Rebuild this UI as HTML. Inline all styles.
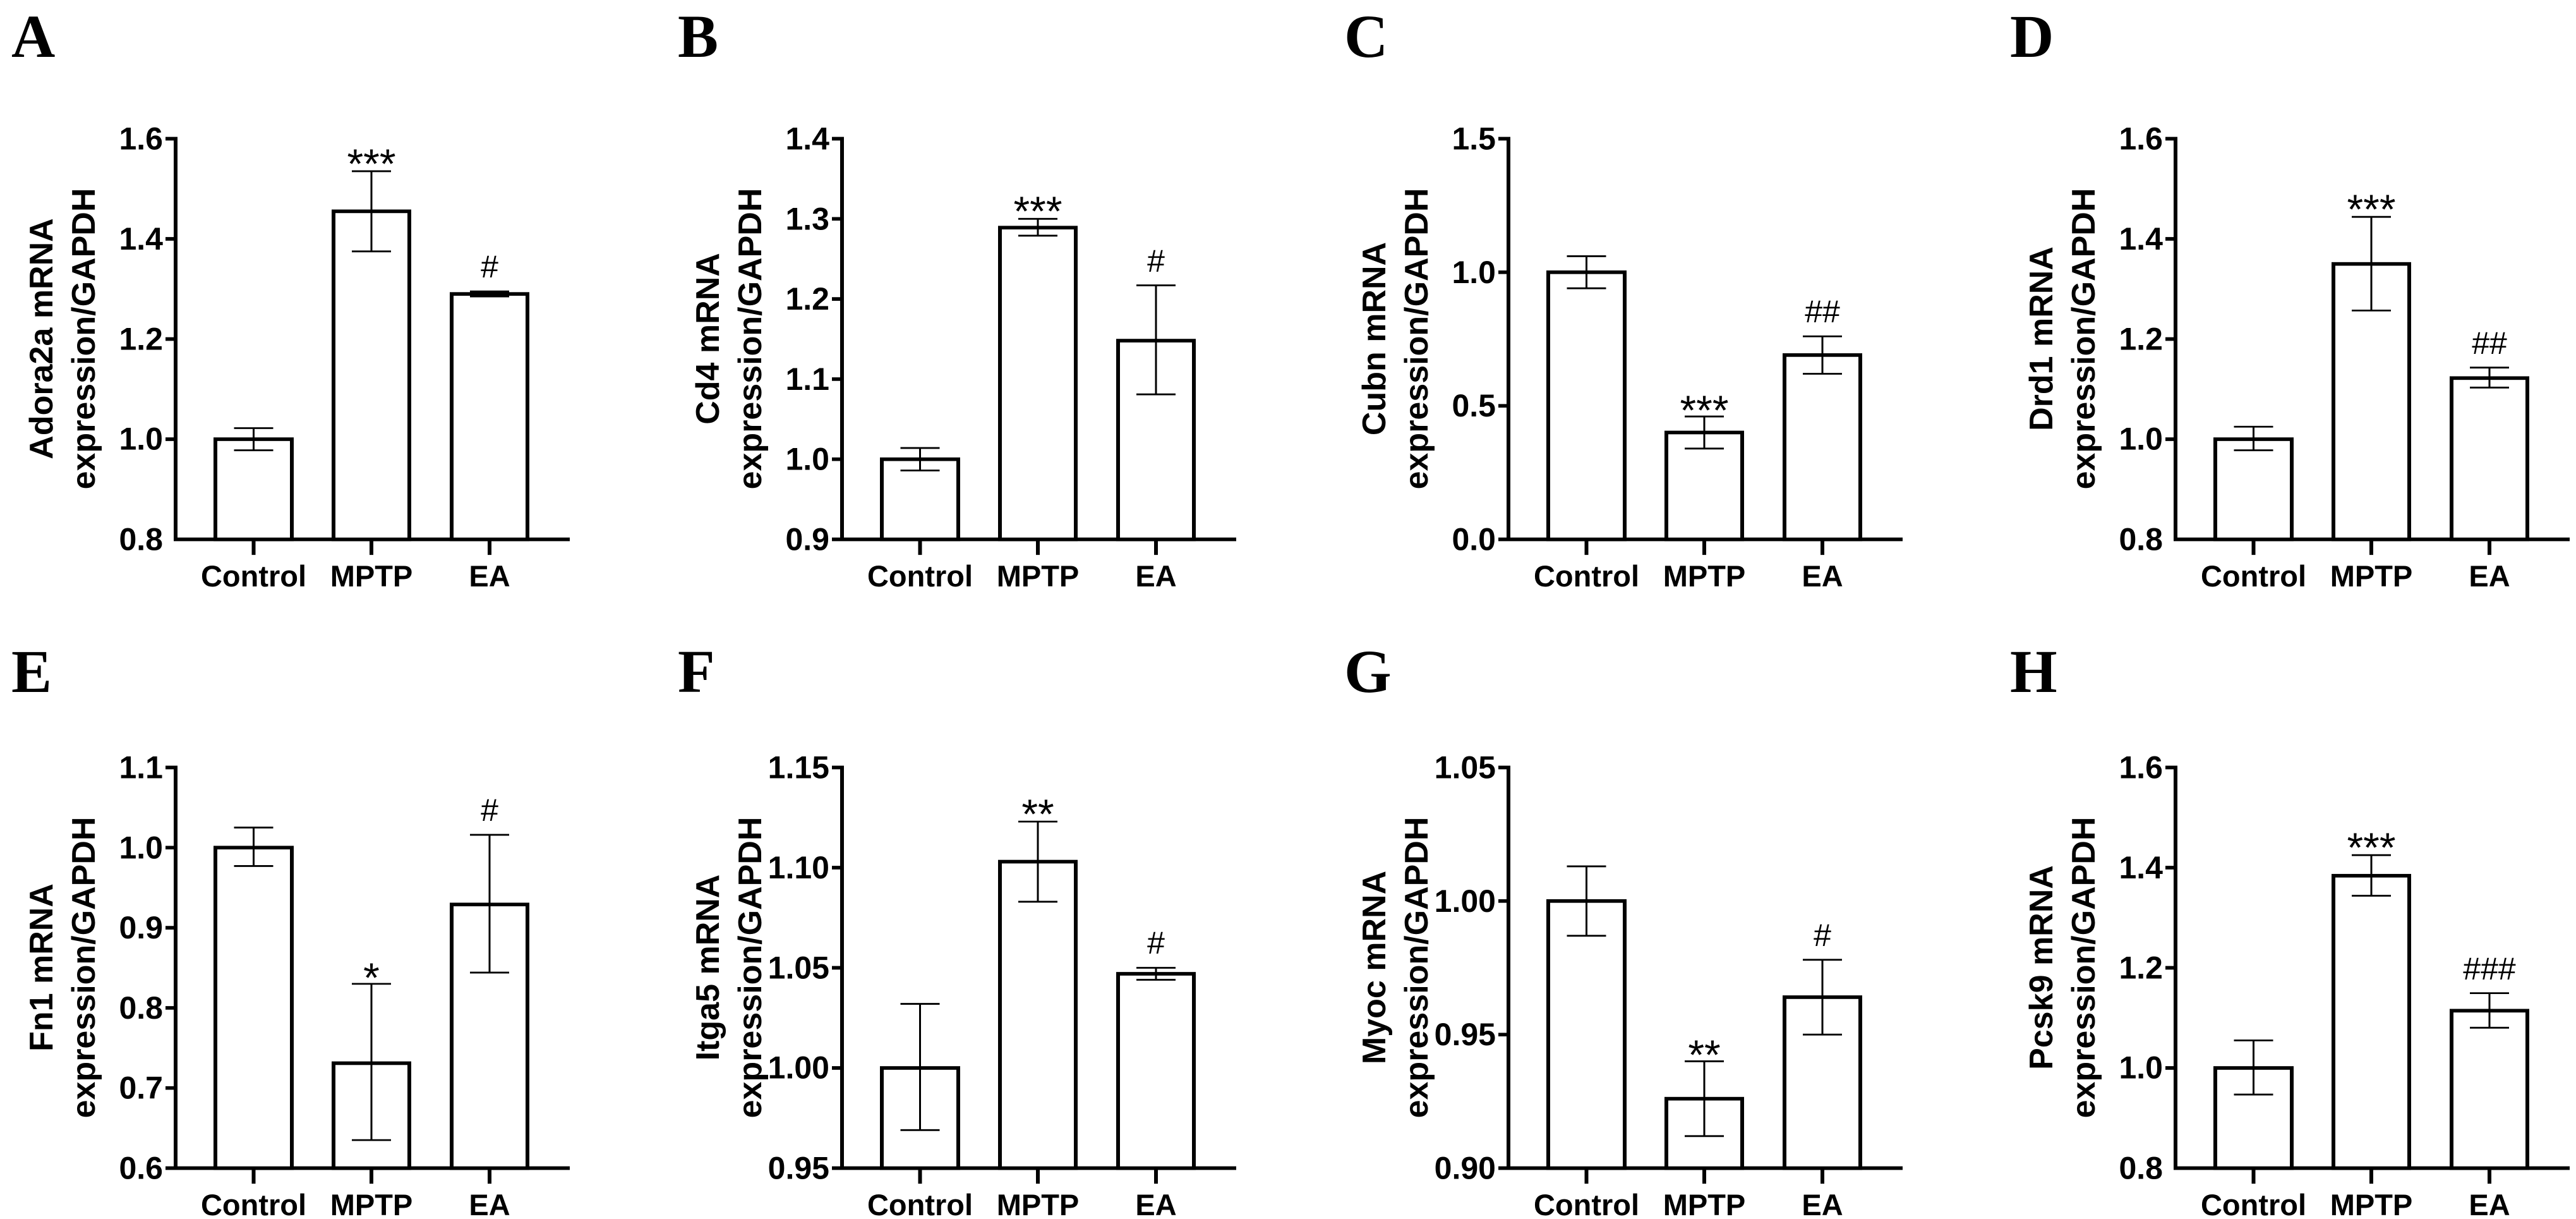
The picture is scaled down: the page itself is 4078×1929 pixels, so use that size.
<!DOCTYPE html>
<html><head><meta charset="utf-8"><style>
html,body{margin:0;padding:0;background:#fff;}
svg{display:block;}
.t{font-family:"Liberation Sans",Arial,sans-serif;font-weight:bold;font-size:50px;fill:#000;}
.c{font-family:"Liberation Sans",Arial,sans-serif;font-weight:bold;font-size:47px;fill:#000;text-anchor:middle;}
.y{font-family:"Liberation Sans",Arial,sans-serif;font-weight:bold;font-size:52px;fill:#000;text-anchor:middle;}
.s{font-family:"Liberation Sans",Arial,sans-serif;font-size:66px;fill:#000;text-anchor:middle;}
.h{font-family:"Liberation Sans",Arial,sans-serif;font-size:50px;fill:#000;text-anchor:middle;}
.L{font-family:"Liberation Serif","Times New Roman",serif;font-weight:bold;font-size:96px;fill:#000;}
.ax{fill:none;stroke:#000;stroke-width:6;}
.b{fill:#fff;stroke:#000;stroke-width:6;}
.e{fill:none;stroke:#000;stroke-width:3;}
</style></head><body>
<svg width="4078" height="1929" viewBox="0 0 4078 1929" xmlns="http://www.w3.org/2000/svg">
<rect width="4078" height="1929" fill="#fff"/>
<text class="L" x="18" y="90">A</text>
<text class="L" x="1073" y="90">B</text>
<text class="L" x="2128" y="90">C</text>
<text class="L" x="3182" y="90">D</text>
<text class="L" x="18" y="1095">E</text>
<text class="L" x="1073" y="1095">F</text>
<text class="L" x="2128" y="1095">G</text>
<text class="L" x="3182" y="1095">H</text>

<!-- A -->
<g transform="translate(0,0)">
<g transform="translate(0,219.5) scale(1,0.9463) translate(0,-232)">
<path class="ax" d="M278,229V902H902M262,232H278M262,399.5H278M262,567H278M262,734.5H278M401.5,902V928M588,902V928M775,902V928"/>
<rect class="b" x="341" y="734.5" width="121" height="167.5"/>
<rect class="b" x="528" y="353.4" width="120" height="548.6"/>
<rect class="b" x="715" y="491.6" width="120" height="410.4"/>
<path class="e" d="M401.5,716V753M370.5,716H432.5M370.5,753H432.5M588,286.4V420.4M557,286.4H619M557,420.4H619M775,487.4V495.8M744,487.4H806M744,495.8H806"/>
</g>
<text class="t" text-anchor="end" x="258" y="236.5">1.6</text><text class="t" text-anchor="end" x="258" y="395">1.4</text><text class="t" text-anchor="end" x="258" y="553.5">1.2</text><text class="t" text-anchor="end" x="258" y="711.5">1.0</text><text class="t" text-anchor="end" x="258" y="870.5">0.8</text>
<text class="c" x="401.5" y="928">Control</text><text class="c" x="588" y="928">MPTP</text><text class="c" x="775" y="928">EA</text>
<text class="y" transform="translate(83,536) rotate(-90)">Adora2a mRNA</text>
<text class="y" transform="translate(150,536) rotate(-90)">expression/GAPDH</text>
<text class="s" x="588" y="282">***</text><text class="h" x="775" y="439">#</text>
</g>

<!-- B -->
<g transform="translate(1055,0)">
<g transform="translate(0,219.5) scale(1,0.9463) translate(0,-232)">
<path class="ax" d="M278,229V902H902M262,232H278M262,366H278M262,500H278M262,634H278M262,768H278M262,902H278M401.5,902V928M588,902V928M775,902V928"/>
<rect class="b" x="341" y="768" width="121" height="134"/>
<rect class="b" x="528" y="380.7" width="120" height="521.3"/>
<rect class="b" x="715" y="569.7" width="120" height="332.3"/>
<path class="e" d="M401.5,749.2V786.8M370.5,749.2H432.5M370.5,786.8H432.5M588,366V394.1M557,366H619M557,394.1H619M775,477.2V659.5M744,477.2H806M744,659.5H806"/>
</g>
<text class="t" text-anchor="end" x="258" y="236.5">1.4</text><text class="t" text-anchor="end" x="258" y="363.3">1.3</text><text class="t" text-anchor="end" x="258" y="490.1">1.2</text><text class="t" text-anchor="end" x="258" y="616.9">1.1</text><text class="t" text-anchor="end" x="258" y="743.7">1.0</text><text class="t" text-anchor="end" x="258" y="870.5">0.9</text>
<text class="c" x="401.5" y="928">Control</text><text class="c" x="588" y="928">MPTP</text><text class="c" x="775" y="928">EA</text>
<text class="y" transform="translate(83,536) rotate(-90)">Cd4 mRNA</text>
<text class="y" transform="translate(150,536) rotate(-90)">expression/GAPDH</text>
<text class="s" x="588" y="357">***</text><text class="h" x="775" y="430">#</text>
</g>

<!-- C -->
<g transform="translate(2110,0)">
<g transform="translate(0,219.5) scale(1,0.9463) translate(0,-232)">
<path class="ax" d="M278,229V902H902M262,232H278M262,455.3H278M262,678.7H278M262,902H278M401.5,902V928M588,902V928M775,902V928"/>
<rect class="b" x="341" y="455.3" width="121" height="446.7"/>
<rect class="b" x="528" y="723.3" width="120" height="178.7"/>
<rect class="b" x="715" y="593.8" width="120" height="308.2"/>
<path class="e" d="M401.5,428.5V482.1M370.5,428.5H432.5M370.5,482.1H432.5M588,696.5V750.1M557,696.5H619M557,750.1H619M775,562.5V625.1M744,562.5H806M744,625.1H806"/>
</g>
<text class="t" text-anchor="end" x="258" y="236.5">1.5</text><text class="t" text-anchor="end" x="258" y="447.8">1.0</text><text class="t" text-anchor="end" x="258" y="659.2">0.5</text><text class="t" text-anchor="end" x="258" y="870.5">0.0</text>
<text class="c" x="401.5" y="928">Control</text><text class="c" x="588" y="928">MPTP</text><text class="c" x="775" y="928">EA</text>
<text class="y" transform="translate(83,536) rotate(-90)">Cubn mRNA</text>
<text class="y" transform="translate(150,536) rotate(-90)">expression/GAPDH</text>
<text class="s" x="588" y="672">***</text><text class="h" x="775" y="510">##</text>
</g>

<!-- D -->
<g transform="translate(3166,0)">
<g transform="translate(0,219.5) scale(1,0.9463) translate(0,-232)">
<path class="ax" d="M278,229V902H902M262,232H278M262,399.5H278M262,567H278M262,734.5H278M401.5,902V928M588,902V928M775,902V928"/>
<rect class="b" x="341" y="734.5" width="121" height="167.5"/>
<rect class="b" x="528" y="441.4" width="120" height="460.6"/>
<rect class="b" x="715" y="632.3" width="120" height="269.7"/>
<path class="e" d="M401.5,713.6V753M370.5,713.6H432.5M370.5,753H432.5M588,362.7V519.3M557,362.7H619M557,519.3H619M775,614.7V648.2M744,614.7H806M744,648.2H806"/>
</g>
<text class="t" text-anchor="end" x="258" y="236.5">1.6</text><text class="t" text-anchor="end" x="258" y="395">1.4</text><text class="t" text-anchor="end" x="258" y="553.5">1.2</text><text class="t" text-anchor="end" x="258" y="711.5">1.0</text><text class="t" text-anchor="end" x="258" y="870.5">0.8</text>
<text class="c" x="401.5" y="928">Control</text><text class="c" x="588" y="928">MPTP</text><text class="c" x="775" y="928">EA</text>
<text class="y" transform="translate(83,536) rotate(-90)">Drd1 mRNA</text>
<text class="y" transform="translate(150,536) rotate(-90)">expression/GAPDH</text>
<text class="s" x="588" y="354">***</text><text class="h" x="775" y="560">##</text>
</g>

<!-- E -->
<g transform="translate(0,995)">
<g transform="translate(0,219.5) scale(1,0.9463) translate(0,-232)">
<path class="ax" d="M278,229V902H902M262,232H278M262,366H278M262,500H278M262,634H278M262,768H278M262,902H278M401.5,902V928M588,902V928M775,902V928"/>
<rect class="b" x="341" y="366" width="121" height="536"/>
<rect class="b" x="528" y="726.5" width="120" height="175.5"/>
<rect class="b" x="715" y="461.1" width="120" height="440.9"/>
<path class="e" d="M401.5,332.5V396.8M370.5,332.5H432.5M370.5,396.8H432.5M588,593.8V855.1M557,593.8H619M557,855.1H619M775,344.6V575M744,344.6H806M744,575H806"/>
</g>
<text class="t" text-anchor="end" x="258" y="236.5">1.1</text><text class="t" text-anchor="end" x="258" y="363.3">1.0</text><text class="t" text-anchor="end" x="258" y="490.1">0.9</text><text class="t" text-anchor="end" x="258" y="616.9">0.8</text><text class="t" text-anchor="end" x="258" y="743.7">0.7</text><text class="t" text-anchor="end" x="258" y="870.5">0.6</text>
<text class="c" x="401.5" y="928">Control</text><text class="c" x="588" y="928">MPTP</text><text class="c" x="775" y="928">EA</text>
<text class="y" transform="translate(83,536) rotate(-90)">Fn1 mRNA</text>
<text class="y" transform="translate(150,536) rotate(-90)">expression/GAPDH</text>
<text class="s" x="588" y="575">*</text><text class="h" x="775" y="304">#</text>
</g>

<!-- F -->
<g transform="translate(1055,995)">
<g transform="translate(0,219.5) scale(1,0.9463) translate(0,-232)">
<path class="ax" d="M278,229V902H902M262,232H278M262,399.5H278M262,567H278M262,734.5H278M262,902H278M401.5,902V928M588,902V928M775,902V928"/>
<rect class="b" x="341" y="734.5" width="121" height="167.5"/>
<rect class="b" x="528" y="389.5" width="120" height="512.5"/>
<rect class="b" x="715" y="577" width="120" height="325"/>
<path class="e" d="M401.5,627.3V838.4M370.5,627.3H432.5M370.5,838.4H432.5M588,322.5V456.5M557,322.5H619M557,456.5H619M775,567V587M744,567H806M744,587H806"/>
</g>
<text class="t" text-anchor="end" x="258" y="236.5">1.15</text><text class="t" text-anchor="end" x="258" y="395">1.10</text><text class="t" text-anchor="end" x="258" y="553.5">1.05</text><text class="t" text-anchor="end" x="258" y="711.5">1.00</text><text class="t" text-anchor="end" x="258" y="870.5">0.95</text>
<text class="c" x="401.5" y="928">Control</text><text class="c" x="588" y="928">MPTP</text><text class="c" x="775" y="928">EA</text>
<text class="y" transform="translate(83,536) rotate(-90)">Itga5 mRNA</text>
<text class="y" transform="translate(150,536) rotate(-90)">expression/GAPDH</text>
<text class="s" x="588" y="316">**</text><text class="h" x="775" y="514">#</text>
</g>

<!-- G -->
<g transform="translate(2110,995)">
<g transform="translate(0,219.5) scale(1,0.9463) translate(0,-232)">
<path class="ax" d="M278,229V902H902M262,232H278M262,455.3H278M262,678.7H278M262,902H278M401.5,902V928M588,902V928M775,902V928"/>
<rect class="b" x="341" y="455.3" width="121" height="446.7"/>
<rect class="b" x="528" y="785.9" width="120" height="116.1"/>
<rect class="b" x="715" y="616.1" width="120" height="285.9"/>
<path class="e" d="M401.5,397.3V513.4M370.5,397.3H432.5M370.5,513.4H432.5M588,723.3V848.4M557,723.3H619M557,848.4H619M775,553.6V678.7M744,553.6H806M744,678.7H806"/>
</g>
<text class="t" text-anchor="end" x="258" y="236.5">1.05</text><text class="t" text-anchor="end" x="258" y="447.8">1.00</text><text class="t" text-anchor="end" x="258" y="659.2">0.95</text><text class="t" text-anchor="end" x="258" y="870.5">0.90</text>
<text class="c" x="401.5" y="928">Control</text><text class="c" x="588" y="928">MPTP</text><text class="c" x="775" y="928">EA</text>
<text class="y" transform="translate(83,536) rotate(-90)">Myoc mRNA</text>
<text class="y" transform="translate(150,536) rotate(-90)">expression/GAPDH</text>
<text class="s" x="588" y="697">**</text><text class="h" x="775" y="502">#</text>
</g>

<!-- H -->
<g transform="translate(3166,995)">
<g transform="translate(0,219.5) scale(1,0.9463) translate(0,-232)">
<path class="ax" d="M278,229V902H902M262,232H278M262,399.5H278M262,567H278M262,734.5H278M401.5,902V928M588,902V928M775,902V928"/>
<rect class="b" x="341" y="734.5" width="121" height="167.5"/>
<rect class="b" x="528" y="413" width="120" height="489"/>
<rect class="b" x="715" y="638.7" width="120" height="263.3"/>
<path class="e" d="M401.5,688.4V778.9M370.5,688.4H432.5M370.5,778.9H432.5M588,378.6V446.5M557,378.6H619M557,446.5H619M775,609.4V667.2M744,609.4H806M744,667.2H806"/>
</g>
<text class="t" text-anchor="end" x="258" y="236.5">1.6</text><text class="t" text-anchor="end" x="258" y="395">1.4</text><text class="t" text-anchor="end" x="258" y="553.5">1.2</text><text class="t" text-anchor="end" x="258" y="711.5">1.0</text><text class="t" text-anchor="end" x="258" y="870.5">0.8</text>
<text class="c" x="401.5" y="928">Control</text><text class="c" x="588" y="928">MPTP</text><text class="c" x="775" y="928">EA</text>
<text class="y" transform="translate(83,536) rotate(-90)">Pcsk9 mRNA</text>
<text class="y" transform="translate(150,536) rotate(-90)">expression/GAPDH</text>
<text class="s" x="588" y="369">***</text><text class="h" x="775" y="555">###</text>
</g>
</svg>
</body></html>
